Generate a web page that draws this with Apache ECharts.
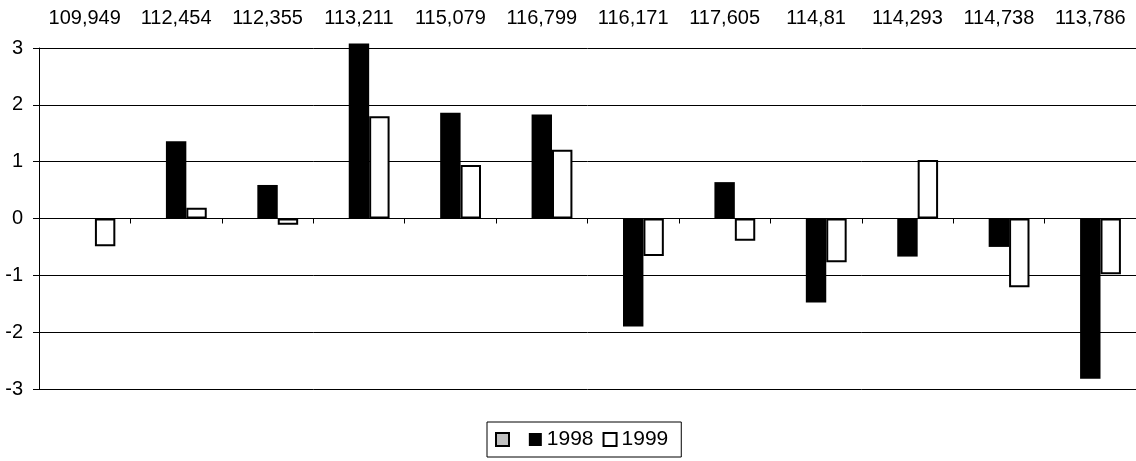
<!DOCTYPE html>
<html>
<head>
<meta charset="utf-8">
<script src="https://cdn.jsdelivr.net/npm/echarts@6/dist/echarts.min.js"></script>
<style>html,body{margin:0;padding:0;background:#fff}#c{width:1136px;height:461px}</style>
</head>
<body>
<div id="c"></div>
<script>
const categories = ['109,949','112,454','112,355','113,211','115,079','116,799','116,171','117,605','114,81','114,293','114,738','113,786'];
const blankSeries = [null,null,null,null,null,null,null,null,null,null,null,null];
const s1998 = [null,1.36,0.59,3.08,1.86,1.83,-1.90,0.64,-1.48,-0.67,-0.50,-2.82];
const s1999 = [-0.49,0.19,-0.11,1.80,0.94,1.21,-0.66,-0.39,-0.77,1.03,-1.21,-0.98];
const yTicks = [-3,-2,-1,0,1,2,3];

const FONT = 'Liberation Sans';
const chart = echarts.init(document.getElementById('c'));
chart.setOption({
  animation: false,
  backgroundColor: '#fff',
  textStyle: {fontFamily: FONT},
  grid: {left: 39, right: 0, top: 48, bottom: 72, containLabel: false},
  legend: {
    left: 487, top: 422,
    data: [' ', '1998', '1999'],
    itemWidth: 13, itemHeight: 13, itemGap: 9,
    padding: [7, 13, 7, 8],
    borderColor: '#000', borderWidth: 1,
    textStyle: {fontFamily: FONT, fontSize: 21, color: '#000'},
    icon: 'rect'
  },
  xAxis: [{
    type: 'category', data: categories, position: 'top',
    axisLine: {show: false, onZero: false}, axisTick: {show: false},
    axisLabel: {fontFamily: FONT, fontSize: 20, color: '#000', margin: 20, interval: 0}
  }, {
    type: 'category', data: categories, position: 'bottom',
    axisLine: {show: true, onZero: true, onZeroAxisIndex: 0, lineStyle: {color: '#000', width: 1}},
    axisTick: {show: true, length: 5, lineStyle: {color: '#000'}},
    axisLabel: {show: false}
  }],
  yAxis: {
    type: 'value', min: -3, max: 3, interval: 1,
    axisLine: {show: true, lineStyle: {color: '#000', width: 1}},
    axisTick: {show: true, length: 6, lineStyle: {color: '#000'}},
    splitLine: {show: true, lineStyle: {color: '#000', width: 1}},
    axisLabel: {fontFamily: FONT, fontSize: 20, color: '#000', margin: 16,
      formatter: v => yTicks.includes(v) ? String(v) : ''}
  },
  series: [
    {name: ' ', type: 'bar', xAxisIndex: 1, data: blankSeries, barGap: '0%', barCategoryGap: '33%', clip: false,
     itemStyle: {color: '#c0c0c0', borderColor: '#000', borderWidth: 2}},
    {name: '1998', type: 'bar', xAxisIndex: 1, data: s1998, barGap: '0%', barCategoryGap: '33%', clip: false,
     itemStyle: {color: '#000', borderColor: '#000', borderWidth: 0}},
    {name: '1999', type: 'bar', xAxisIndex: 1, data: s1999, barGap: '0%', barCategoryGap: '33%', clip: false,
     itemStyle: {color: '#fff', borderColor: '#000', borderWidth: 2}}
  ]
});
</script>
</body>
</html>
